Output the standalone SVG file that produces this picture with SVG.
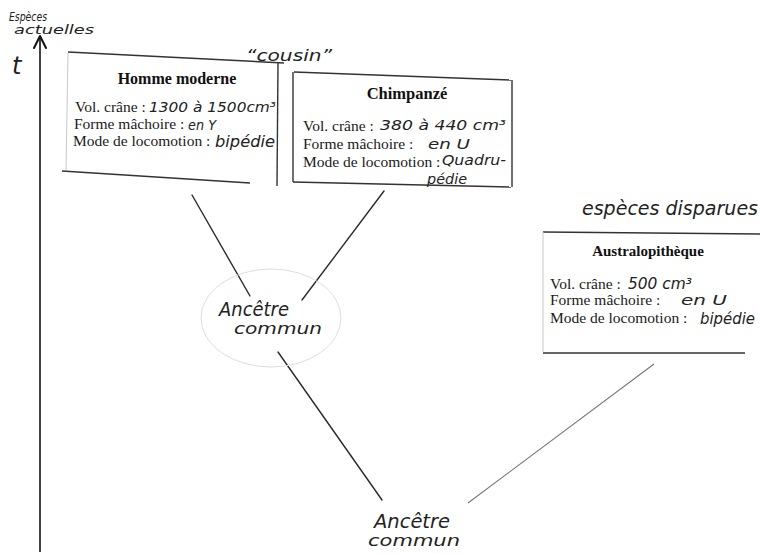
<svg xmlns="http://www.w3.org/2000/svg" width="760" height="554" viewBox="0 0 760 554">
<defs>
<style>
.pr{font-family:"Liberation Serif","Times New Roman",serif;font-size:15.5px;fill:#1a1a1a}
.ti{font-family:"Liberation Serif","Times New Roman",serif;font-weight:bold;fill:#111;text-anchor:middle}
.hw{font-family:"DejaVu Sans","Liberation Sans",sans-serif;font-style:italic;fill:#222}
.edge{stroke:#2a2a2a;stroke-width:1.4;fill:none;stroke-linecap:round}
.box{stroke:#333;stroke-width:1.4;fill:none}
.faint{stroke:#c8c8c8;stroke-width:1;fill:none}
</style>
</defs>
<rect width="760" height="554" fill="#fff"/>

<g id="axis">
<line x1="40" y1="552" x2="40" y2="37" stroke="#111" stroke-width="1.6"/>
<path d="M34,48 L40,36 L46,48" fill="none" stroke="#111" stroke-width="2" stroke-linejoin="round" stroke-linecap="round"/>
<text class="hw" x="9" y="21" font-size="13" textLength="38" lengthAdjust="spacingAndGlyphs">Espèces</text>
<text class="hw" x="14" y="34" font-size="12" textLength="80" lengthAdjust="spacingAndGlyphs">actuelles</text>
<text class="hw" x="12" y="74" font-size="24" font-style="normal">t</text>
</g>

<g id="labels">
<text class="hw" x="246" y="61" font-size="15" textLength="86" lengthAdjust="spacingAndGlyphs">“cousin”</text>
<text class="hw" x="582" y="215" font-size="19" textLength="176" lengthAdjust="spacingAndGlyphs">espèces disparues</text>
</g>

<g id="connectors">
<line class="edge" x1="192" y1="195" x2="250" y2="296"/>
<line class="edge" x1="384" y1="191" x2="302" y2="300"/>
<line class="edge" x1="278" y1="352" x2="382" y2="500"/>
<line x1="654" y1="364" x2="468" y2="503" stroke="#777" stroke-width="1.1"/>
</g>

<g id="homme-moderne">
<line class="box" x1="68" y1="52" x2="284" y2="63"/>
<line class="faint" x1="68" y1="53" x2="66" y2="170"/>
<line class="box" x1="278" y1="63" x2="277" y2="186"/>
<line class="box" x1="62" y1="171" x2="250" y2="183"/>
<text class="ti" x="177" y="84" font-size="16">Homme moderne</text>
<text class="pr" x="75" y="112">Vol. crâne :</text>
<text class="hw" x="149" y="112" font-size="14" textLength="127" lengthAdjust="spacingAndGlyphs">1300 à 1500cm³</text>
<text class="pr" x="74" y="129">Forme mâchoire :</text>
<text class="hw" x="188" y="130" font-size="14" textLength="28" lengthAdjust="spacingAndGlyphs">en Y</text>
<text class="pr" x="73" y="146">Mode de locomotion :</text>
<text class="hw" x="215" y="147" font-size="15" textLength="60" lengthAdjust="spacingAndGlyphs">bipédie</text>
</g>

<g id="chimpanze">
<line class="box" x1="294" y1="72" x2="511" y2="80"/>
<line class="box" x1="293" y1="72" x2="293" y2="182"/>
<line class="box" x1="512" y1="80" x2="512" y2="187"/>
<line class="box" x1="293" y1="182" x2="511" y2="187"/>
<text class="ti" x="407" y="99" font-size="16.5">Chimpanzé</text>
<text class="pr" x="303" y="131">Vol. crâne :</text>
<text class="hw" x="380" y="130" font-size="14" textLength="126" lengthAdjust="spacingAndGlyphs">380 à 440 cm³</text>
<text class="pr" x="303" y="149">Forme mâchoire :</text>
<text class="hw" x="428" y="149" font-size="14" textLength="42" lengthAdjust="spacingAndGlyphs">en U</text>
<text class="pr" x="303" y="167">Mode de locomotion :</text>
<text class="hw" x="442" y="165" font-size="14" textLength="64" lengthAdjust="spacingAndGlyphs">Quadru-</text>
<text class="hw" x="427" y="184" font-size="14" textLength="40" lengthAdjust="spacingAndGlyphs">pédie</text>
</g>

<g id="australopitheque">
<line class="box" x1="543" y1="232" x2="760" y2="234"/>
<line class="faint" x1="543" y1="232" x2="543" y2="352"/>
<line class="box" x1="543" y1="353" x2="745" y2="353"/>
<text class="ti" x="648" y="256" font-size="15">Australopithèque</text>
<text class="pr" x="550" y="289">Vol. crâne :</text>
<text class="hw" x="628" y="289" font-size="15" textLength="64" lengthAdjust="spacingAndGlyphs">500 cm³</text>
<text class="pr" x="550" y="305">Forme mâchoire :</text>
<text class="hw" x="681" y="305" font-size="14" textLength="46" lengthAdjust="spacingAndGlyphs">en U</text>
<text class="pr" x="550" y="323">Mode de locomotion :</text>
<text class="hw" x="700" y="324" font-size="15" textLength="55" lengthAdjust="spacingAndGlyphs">bipédie</text>
</g>

<g id="ancetre-commun-1">
<ellipse cx="271" cy="318" rx="70" ry="49" fill="none" stroke="#dedede" stroke-width="1"/>
<text class="hw" x="219" y="316" font-size="19" textLength="70" lengthAdjust="spacingAndGlyphs">Ancêtre</text>
<text class="hw" x="234" y="334" font-size="15" textLength="88" lengthAdjust="spacingAndGlyphs">commun</text>
</g>

<g id="ancetre-commun-2">
<text class="hw" x="374" y="528" font-size="19" textLength="76" lengthAdjust="spacingAndGlyphs">Ancêtre</text>
<text class="hw" x="368" y="546" font-size="15" textLength="92" lengthAdjust="spacingAndGlyphs">commun</text>
</g>
</svg>
